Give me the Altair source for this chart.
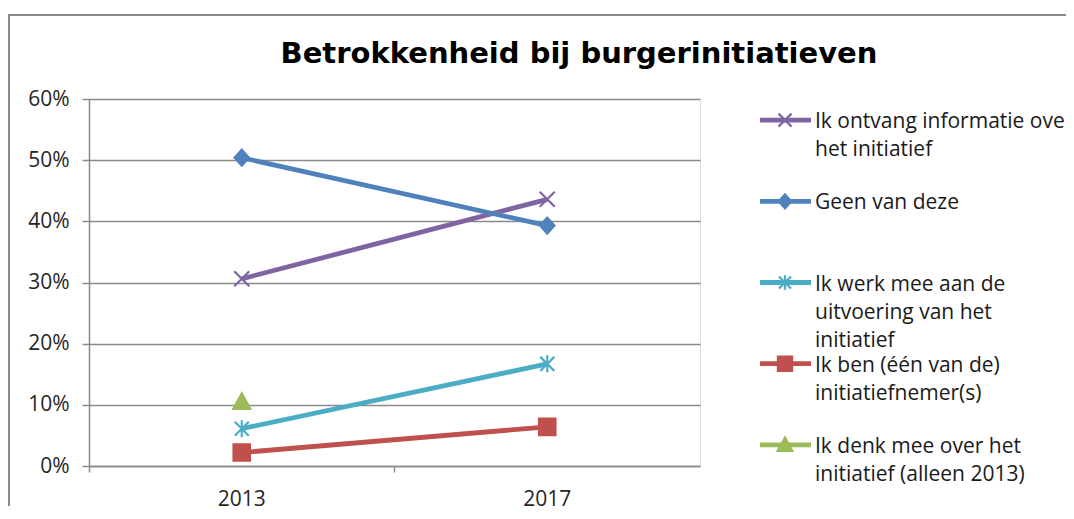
import altair as alt
import pandas as pd

# ---- data ----
years = ["2013", "2017"]
series = [
    "Ik ontvang informatie over het initiatief",
    "Geen van deze",
    "Ik werk mee aan de uitvoering van het initiatief",
    "Ik ben (één van de) initiatiefnemer(s)",
    "Ik denk mee over het initiatief (alleen 2013)",
]
legend_labels = [
    "Ik ontvang informatie over\nhet initiatief",
    "Geen van deze",
    "Ik werk mee aan de\nuitvoering van het\ninitiatief",
    "Ik ben (één van de)\ninitiatiefnemer(s)",
    "Ik denk mee over het\ninitiatief (alleen 2013)",
]
ontvang_info = [0.306, 0.436]
geen_van_deze = [0.504, 0.393]
werk_mee = [0.061, 0.167]
initiatiefnemer = [0.022, 0.064]
denk_mee = [0.105, None]

y_ticks = [0.0, 0.1, 0.2, 0.3, 0.4, 0.5, 0.6]
title_text = "Betrokkenheid bij burgerinitiatieven"

colors = ["#8064A2", "#4F81BD", "#4BACC6", "#C0504D", "#9BBB59"]
shapes = [
    "M-0.75,-0.75L0.75,0.75M-0.75,0.75L0.75,-0.75",
    "M0,-0.8L0.72,0L0,0.8L-0.72,0Z",
    "M-0.7,-0.7L0.7,0.7M-0.7,0.7L0.7,-0.7M0,-0.85L0,0.85",
    "M-0.82,-0.82L0.82,-0.82L0.82,0.82L-0.82,0.82Z",
    "M0,-0.85L0.85,0.7L-0.85,0.7Z",
]

rows = []
for name, vals in zip(series, [ontvang_info, geen_van_deze, werk_mee, initiatiefnemer, denk_mee]):
    for yr, v in zip(years, vals):
        if v is not None:
            rows.append({"year": yr, "value": v, "series": name})
df = pd.DataFrame(rows)
legend_df = pd.DataFrame({"series": series, "label": legend_labels})
frame_df = pd.DataFrame({"k": [0]})

FONT = "Open Sans"
GRAY = "#8a8a8a"

color_scale = alt.Scale(domain=series, range=colors)
shape_scale = alt.Scale(domain=series, range=shapes)

x_enc = alt.X(
    "year:N",
    bandPosition=0.5,
    scale=alt.Scale(type="band", domain=years, paddingInner=0, paddingOuter=0),
    axis=alt.Axis(
        title=None, bandPosition=0, labelAngle=0,
        labelFontSize=21, labelFont=FONT, labelColor="#262626",
        tickSize=6, tickColor=GRAY, tickWidth=1.5, labelPadding=16,
        domainColor=GRAY, domainWidth=1.5, grid=False,
    ),
)
y_enc = alt.Y(
    "value:Q",
    scale=alt.Scale(domain=[0, 0.6], nice=False),
    axis=alt.Axis(
        title=None, values=y_ticks, format=".0%",
        labelFontSize=21, labelFont=FONT, labelColor="#262626",
        tickSize=7, tickColor=GRAY, tickWidth=1.5, labelPadding=13,
        domainColor=GRAY, domainWidth=1.5,
        grid=True, gridColor=GRAY, gridWidth=1.5,
    ),
)

lines = alt.Chart(df).mark_line(strokeWidth=4.8).encode(
    x=x_enc, y=y_enc,
    color=alt.Color("series:N", scale=color_scale, legend=None),
    detail="series:N",
)
points = alt.Chart(df).mark_point(filled=True, opacity=1, strokeWidth=2.2, size=400).encode(
    x=x_enc, y=y_enc,
    fill=alt.Fill("series:N", scale=color_scale, legend=None),
    stroke=alt.Stroke("series:N", scale=color_scale, legend=None),
    shape=alt.Shape("series:N", scale=shape_scale, legend=None),
)
main = alt.layer(lines, points)

leg_y = alt.Y("series:N", scale=alt.Scale(type="point", domain=series, padding=0.26), axis=None)
leg_rule = alt.Chart(legend_df).mark_rule(strokeWidth=4.8).encode(
    x=alt.value(671), x2=alt.value(722), y=leg_y,
    color=alt.Color("series:N", scale=color_scale, legend=None),
)
leg_pts = alt.Chart(legend_df).mark_point(filled=True, opacity=1, strokeWidth=2.2, size=300).encode(
    x=alt.value(696), y=leg_y,
    fill=alt.Fill("series:N", scale=color_scale, legend=None),
    stroke=alt.Stroke("series:N", scale=color_scale, legend=None),
    shape=alt.Shape("series:N", scale=shape_scale, legend=None),
)
leg_text = alt.Chart(legend_df).mark_text(
    align="left", baseline="alphabetic", dy=8, fontSize=21, font=FONT,
    color="#1a1a1a", lineBreak="\n", lineHeight=28,
).encode(x=alt.value(726), y=leg_y, text="label:N")
legend = alt.layer(leg_rule, leg_pts, leg_text)

frame = alt.Chart(frame_df).mark_rect(fillOpacity=0, stroke=GRAY, strokeWidth=2).encode(
    x=alt.value(-80), x2=alt.value(1100), y=alt.value(-84), y2=alt.value(600)
)

chart = alt.layer(frame, main, legend).resolve_scale(y="independent").properties(
    width=611,
    height=367,
    title=alt.TitleParams(
        title_text, font="DejaVu Sans", fontSize=29, fontWeight="bold", color="#000000",
        anchor="middle", frame="group", dx=184.5, baseline="alphabetic", offset=-78,
    ),
    autosize=alt.AutoSizeParams(type="none"),
    padding={"left": 81, "top": 91, "right": 366, "bottom": 40},
).configure_view(stroke=None).configure(background="white")

chart.save("out.html", embed_options={"renderer": "svg", "actions": False})
